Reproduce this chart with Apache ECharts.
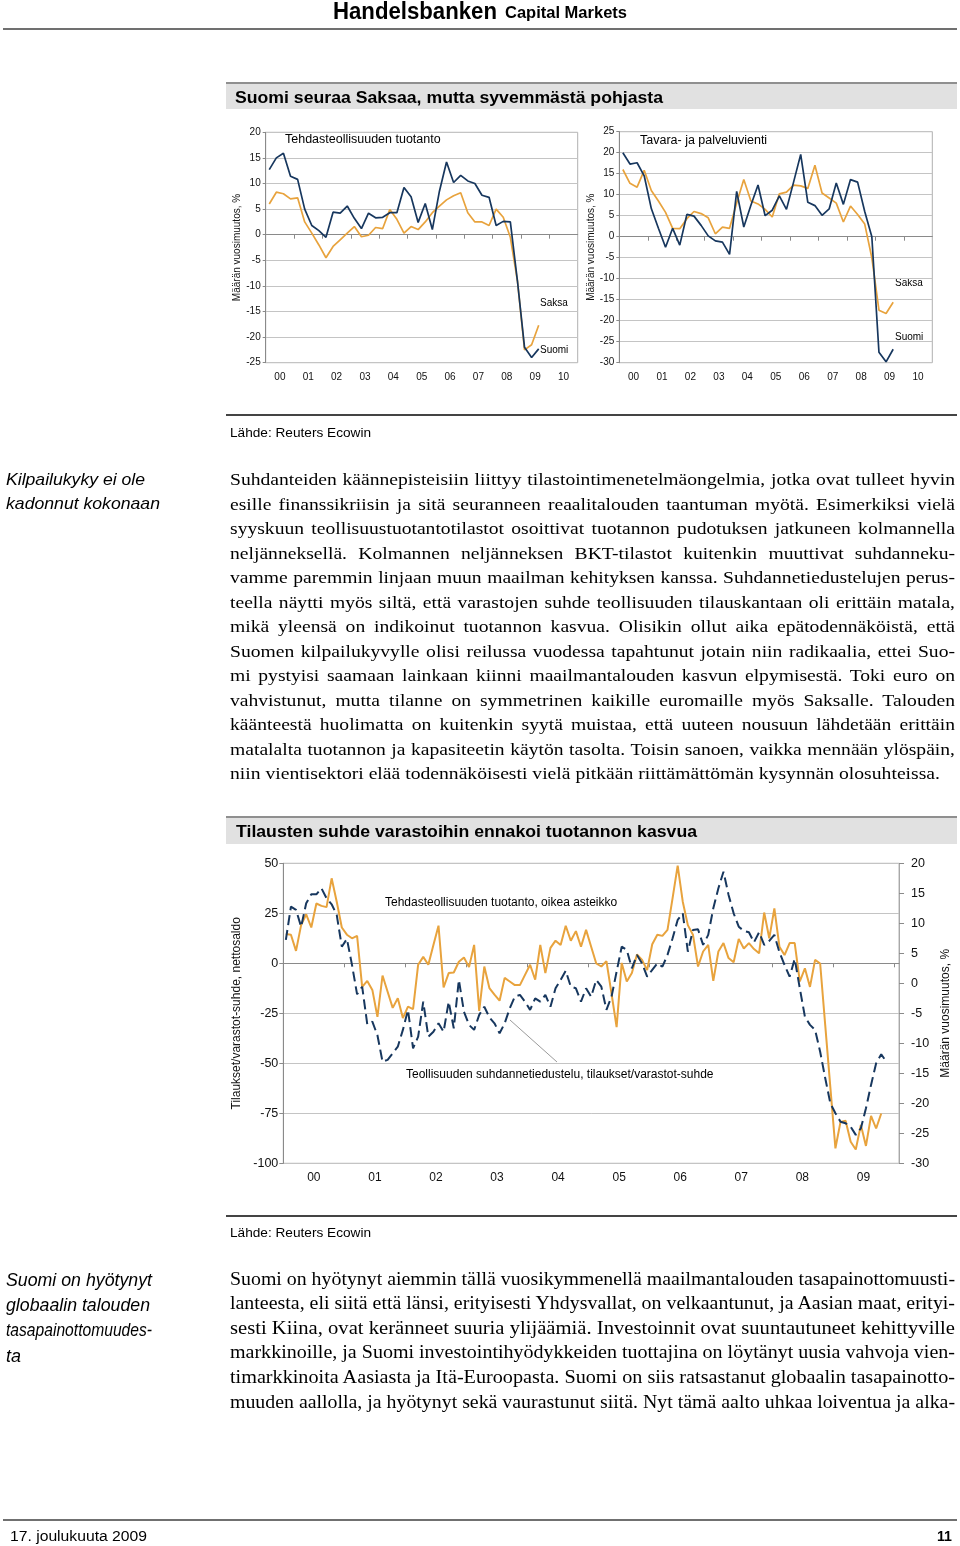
<!DOCTYPE html>
<html><head><meta charset="utf-8">
<script src="https://cdn.jsdelivr.net/npm/echarts@6/dist/echarts.min.js"></script>
<style>
html,body{margin:0;padding:0;background:#fff;}
body{width:960px;height:1546px;position:relative;overflow:hidden;}
#chart{position:absolute;left:0;top:0;width:960px;height:1546px;z-index:1;}
.t{position:absolute;white-space:nowrap;color:#000;z-index:2;}
.band{position:absolute;background:#e1e1e1;border-top:2px solid #8f8f8f;z-index:0;}
.rule{position:absolute;z-index:0;}
</style></head>
<body>
<div class="rule" style="left:3px;top:28px;width:954px;height:2px;background:#707070"></div>
<div class="band" style="left:226px;top:82px;width:731px;height:25px"></div>
<div class="rule" style="left:226px;top:414px;width:731px;height:1.5px;background:#444"></div>
<div class="band" style="left:226px;top:816px;width:731px;height:26px"></div>
<div class="rule" style="left:226px;top:1215px;width:731px;height:1.5px;background:#444"></div>
<div class="rule" style="left:3px;top:1519px;width:954px;height:2px;background:#707070"></div>
<div id="chart"></div>
<script>
// ---------- DATA ----------
const yearsTop = ['00','01','02','03','04','05','06','07','08','09','10'];
const yearsBottom = ['00','01','02','03','04','05','06','07','08','09'];

// Chart 1: Tehdasteollisuuden tuotanto, quarterly y/y %, 2000Q1..2009Q3
const prodSuomi = [12.7,15.0,15.9,11.4,10.8,5.0,1.8,0.8,-0.5,4.4,4.2,5.6,3.2,1.2,4.2,3.3,3.4,4.3,4.3,9.2,7.4,2.4,6.1,1.0,8.5,14.2,10.2,11.6,10.5,10.0,7.7,7.3,1.8,2.6,2.5,-9.0,-22.0,-24.0,-22.3];
const prodSaksa = [6.0,8.3,8.0,7.0,7.2,2.5,0.3,-2.0,-4.5,-2.3,-1.0,0.3,1.6,-0.4,-0.1,1.4,1.2,4.9,3.0,0.3,1.6,1.0,2.5,4.3,5.6,6.8,7.6,8.2,4.3,2.5,2.5,1.8,5.0,3.4,-0.5,-9.0,-22.5,-21.5,-17.7];

// Chart 2: Tavara- ja palveluvienti, quarterly y/y %, 2000Q1..2009Q3
const exportSuomi = [20.0,17.3,17.6,14.5,6.7,2.0,-2.5,2.0,-2.0,5.3,4.9,2.7,0.2,-1.0,-1.3,-4.2,10.8,2.3,7.5,12.3,5.0,6.3,9.7,6.5,13.0,19.6,8.2,7.4,5.1,6.6,12.8,7.7,13.6,13.0,6.0,0.0,-27.5,-29.8,-26.8];
const exportSaksa = [16.0,12.7,11.8,15.8,11.0,8.5,5.8,2.0,1.9,4.3,6.0,5.5,4.5,0.7,2.3,2.0,8.0,13.6,8.5,7.8,6.5,4.7,10.2,10.6,12.3,12.1,11.5,17.0,10.4,9.2,8.0,3.5,7.3,5.3,3.0,-5.0,-17.5,-18.3,-15.6];

// Chart 3: monthly, from Jan 2000
// Tehdasteollisuuden tuotanto (right axis, y/y %)
const manufProd = [8.2,8.1,5.4,9.7,11.5,9.3,13.3,12.9,12.7,17.5,13.6,9.3,
 8.1,7.5,7.9,-0.6,0.4,-1.1,-5.6,1.3,-1.4,-4.1,-2.5,-5.8,
 -3.9,-4.3,3.1,4.4,3.1,6.4,9.6,-0.7,1.7,1.8,3.6,4.3,
 2.7,6.4,-4.6,2.8,-0.8,-1.9,-2.9,0.9,0.3,-0.3,-0.3,1.4,
 3.1,0.6,6.4,1.7,5.9,7.1,6.4,9.6,7.1,8.7,6.1,8.9,
 6.1,3.3,2.8,3.7,-1.7,-7.3,3.4,0.3,1.7,4.8,3.9,2.2,
 6.5,8.1,7.9,8.9,14.2,19.6,13.6,9.7,8.1,2.8,5.3,6.4,
 0.4,5.3,6.7,4.2,3.5,7.4,5.8,6.7,5.7,5.0,11.8,7.5,
 12.5,6.1,4.7,6.7,6.7,0.3,2.5,-0.6,3.9,3.3,-7.0,-17.3,
 -27.5,-23.1,-22.9,-26.4,-27.7,-23.6,-27.1,-22.1,-24.2,-21.7];
// Teollisuuden suhdannetiedustelu, tilaukset/varastot-suhde (left axis, net balance)
const ordersStocks = [11.7,28.3,26.7,18.3,30.0,34.5,34.5,37.5,32.5,29.5,24.2,8.3,
 12.2,-0.8,-15.5,-11.7,-30.5,-29.2,-36.0,-49.2,-48.3,-45.0,-41.7,-33.3,
 -23.3,-42.5,-36.7,-19.2,-36.7,-34.2,-30.0,-34.2,-19.2,-32.5,-8.3,-24.2,
 -30.8,-33.3,-25.8,-21.7,-27.0,-30.0,-35.0,-30.0,-22.5,-16.7,-15.8,-19.2,
 -23.3,-17.5,-19.2,-15.8,-21.7,-12.5,-8.3,-3.7,-11.7,-12.5,-19.2,-12.5,
 -16.7,-8.3,-11.7,-23.3,-16.7,-4.2,8.3,6.7,-2.5,4.2,0.0,-6.7,
 -3.3,0.0,-1.7,4.2,12.5,21.7,25.0,5.8,16.7,17.0,9.2,14.2,
 27.5,37.5,45.8,34.2,25.0,18.3,16.2,15.5,10.5,15.5,9.2,11.2,
 14.2,5.5,-0.8,-6.7,2.2,-12.5,-26.7,-30.8,-33.3,-44.2,-57.5,-70.0,
 -75.0,-79.2,-80.0,-81.7,-85.8,-82.5,-72.5,-60.8,-50.0,-45.5,-49.2];

// ---------- TEXT ----------
const para1 = [
 'Suhdanteiden käännepisteisiin liittyy tilastointimenetelmäongelmia, jotka ovat tulleet hyvin',
 'esille finanssikriisin ja sitä seuranneen reaalitalouden taantuman myötä. Esimerkiksi vielä',
 'syyskuun teollisuustuotantotilastot osoittivat tuotannon pudotuksen jatkuneen kolmannella',
 'neljänneksellä. Kolmannen neljänneksen BKT-tilastot kuitenkin muuttivat suhdanneku-',
 'vamme paremmin linjaan muun maailman kehityksen kanssa. Suhdannetiedustelujen perus-',
 'teella näytti myös siltä, että varastojen suhde teollisuuden tilauskantaan oli erittäin matala,',
 'mikä yleensä on indikoinut tuotannon kasvua. Olisikin ollut aika epätodennäköistä, että',
 'Suomen kilpailukyvylle olisi reilussa vuodessa tapahtunut jotain niin radikaalia, ettei Suo-',
 'mi pystyisi saamaan lainkaan kiinni maailmantalouden kasvun elpymisestä. Toki euro on',
 'vahvistunut, mutta tilanne on symmetrinen kaikille euromaille myös Saksalle. Talouden',
 'käänteestä huolimatta on kuitenkin syytä muistaa, että uuteen nousuun lähdetään erittäin',
 'matalalta tuotannon ja kapasiteetin käytön tasolta. Toisin sanoen, vaikka mennään ylöspäin,',
 'niin vientisektori elää todennäköisesti vielä pitkään riittämättömän kysynnän olosuhteissa.'
];
const para2 = [
 'Suomi on hyötynyt aiemmin tällä vuosikymmenellä maailmantalouden tasapainottomuusti-',
 'lanteesta, eli siitä että länsi, erityisesti Yhdysvallat, on velkaantunut, ja Aasian maat, erityi-',
 'sesti Kiina, ovat keränneet suuria ylijäämiä. Investoinnit ovat suuntautuneet kehittyville',
 'markkinoille, ja Suomi investointihyödykkeiden tuottajina on löytänyt uusia vahvoja vien-',
 'timarkkinoita Aasiasta ja Itä-Euroopasta. Suomi on siis ratsastanut globaalin tasapainotto-',
 'muuden aallolla, ja hyötynyt sekä vaurastunut siitä. Nyt tämä aalto uhkaa loiventua ja alka-'
];
const note1 = ['Kilpailukyky ei ole','kadonnut kokonaan'];
const note2 = ['Suomi on hyötynyt','globaalin talouden','tasapainottomuudes-','ta'];

const SANS = '"Liberation Sans", Arial, sans-serif';
const NARROW = '"Liberation Sans Narrow", "Liberation Sans", Arial, sans-serif';
const SERIF = '"Liberation Serif", "Times New Roman", serif';

function place(text, x, y, w, size, family, opts) {
  opts = opts || {};
  const lh = Math.round(size * 1.25);
  const d = document.createElement('div');
  d.className = 't';
  d.style.left = x + 'px';
  d.style.top = (y - lh / 2) + 'px';
  d.style.height = lh + 'px';
  d.style.lineHeight = lh + 'px';
  d.style.fontSize = size + 'px';
  d.style.fontFamily = family;
  if (opts.bold) d.style.fontWeight = 'bold';
  if (opts.italic) d.style.fontStyle = 'italic';
  const s = document.createElement('span');
  s.textContent = text;
  d.appendChild(s);
  document.body.appendChild(d);
  const nat = s.getBoundingClientRect().width;
  const mode = opts.mode || 'scale';
  s.style.display = 'inline-block';
  s.style.transformOrigin = '0 50%';
  if (mode === 'justify') {
    const k = Math.min(opts.hscale || 1, w / nat);
    const n = (text.match(/ /g) || []).length;
    if (n && w / k > nat) s.style.wordSpacing = ((w / k - nat) / n) + 'px';
    s.style.transform = 'scaleX(' + k + ')';
  } else if (mode === 'scale') {
    s.style.transform = 'scaleX(' + (w / nat) + ')';
  }
}

place('Handelsbanken', 333, 11, 164, 23, NARROW, {bold:true});
place('Capital Markets', 505, 12, 122, 17, NARROW, {bold:true});
place('Suomi seuraa Saksaa, mutta syvemmästä pohjasta', 235, 97, 428, 16.5, NARROW, {bold:true});
place('Lähde: Reuters Ecowin', 230, 433, 141, 13, SANS);
note1.forEach((l, i) => place(l, 6, 479 + i * 24.6, [139, 154][i], 17, SANS, {italic:true}));
para1.forEach((l, i) => {
  const last = i === para1.length - 1;
  place(l, 230, 479 + i * 24.5, last ? 710 : 725, 17.5, SERIF, last ? {mode:'scale'} : {mode:'justify', hscale:1.12});
});
place('Tilausten suhde varastoihin ennakoi tuotannon kasvua', 236, 831, 461, 16.5, NARROW, {bold:true});
place('Lähde: Reuters Ecowin', 230, 1233, 141, 13, SANS);
note2.forEach((l, i) => place(l, 6, 1280 + i * 25.2, [146, 144, 146, 15][i], 17.5, SANS, {italic:true}));
para2.forEach((l, i) => place(l, 230, 1279 + i * 24.6, 725, 18.5, SERIF, {mode:'scale'}));
place('17. joulukuuta 2009', 10, 1535, 137, 15.5, NARROW);
place('11', 937, 1535, 15, 15.5, NARROW, {bold:true});

// ---------- CHARTS ----------
const NAVY = '#17375e', ORANGE = '#e8a33d', GRID = '#c4c4c4', AX = '#8a8a8a';
const q = arr => arr.map((v, i) => [i + 0.5, v]);

function topXAxis(gi) {
  return {
    type: 'value', gridIndex: gi, min: 0, max: 44,
    splitLine: {show: false},
    axisLine: {show: true, lineStyle: {color: AX}},
    axisTick: {show: true, length: 4, lineStyle: {color: AX}, customValues: yearsTop.map((y, i) => i * 4)},
    axisLabel: {fontSize: 10, color: '#111', fontFamily: SANS, margin: 10,
      customValues: yearsTop.map((y, i) => i * 4 + 2),
      formatter: v => yearsTop[Math.floor(v / 4)]}
  };
}
function topYAxis(gi, min, max) {
  return {
    type: 'value', gridIndex: gi, min: min, max: max, interval: 5,
    name: 'Määrän vuosimuutos, %', nameLocation: 'middle', nameGap: 23, nameRotate: 90,
    nameTextStyle: {fontSize: 10, color: '#111', fontFamily: SANS},
    axisLine: {show: true, lineStyle: {color: AX}},
    axisTick: {show: true, length: 3, lineStyle: {color: AX}},
    splitLine: {show: true, lineStyle: {color: GRID, width: 1}},
    axisLabel: {fontSize: 10, color: '#111', fontFamily: SANS, margin: 5}
  };
}

const chart = echarts.init(document.getElementById('chart'), null, {renderer: 'canvas'});
chart.setOption({
  animation: false,
  grid: [
    {left: 265.7, top: 132.3, width: 312, height: 230.4, show: true, borderColor: '#b0b0b0', borderWidth: 1},
    {left: 619.3, top: 131.7, width: 313, height: 231, show: true, borderColor: '#b0b0b0', borderWidth: 1},
    {left: 283.3, top: 863.3, width: 617.7, height: 300, show: true, borderColor: '#b0b0b0', borderWidth: 1}
  ],
  xAxis: [
    topXAxis(0), topXAxis(1),
    {
      type: 'value', gridIndex: 2, min: 0, max: 121,
      splitLine: {show: false},
      axisLine: {show: true, lineStyle: {color: AX}},
      axisTick: {show: true, length: 4, lineStyle: {color: AX}, customValues: yearsBottom.map((y, i) => i * 12).concat([120])},
      axisLabel: {fontSize: 12, color: '#111', fontFamily: SANS, margin: 8,
        customValues: yearsBottom.map((y, i) => i * 12 + 6),
        formatter: v => yearsBottom[Math.floor(v / 12)]}
    }
  ],
  yAxis: [
    topYAxis(0, -25, 20),
    topYAxis(1, -30, 25),
    {
      type: 'value', gridIndex: 2, min: -100, max: 50, interval: 25, position: 'left',
      name: 'Tilaukset/varastot-suhde, nettosaldo', nameLocation: 'middle', nameGap: 39, nameRotate: 90,
      nameTextStyle: {fontSize: 12, color: '#111', fontFamily: SANS},
      axisLine: {show: true, lineStyle: {color: AX}},
      axisTick: {show: true, length: 4, lineStyle: {color: AX}},
      splitLine: {show: true, lineStyle: {color: GRID, width: 1}},
      axisLabel: {fontSize: 12.5, color: '#111', fontFamily: SANS, margin: 5}
    },
    {
      type: 'value', gridIndex: 2, min: -30, max: 20, interval: 5, position: 'right',
      name: 'Määrän vuosimuutos, %', nameLocation: 'middle', nameGap: 31, nameRotate: 90,
      nameTextStyle: {fontSize: 12, color: '#111', fontFamily: SANS},
      axisLine: {show: true, lineStyle: {color: '#a8a8a8'}},
      axisTick: {show: true, length: 5, lineStyle: {color: AX}},
      splitLine: {show: false},
      axisLabel: {fontSize: 12.5, color: '#111', fontFamily: SANS, margin: 12}
    }
  ],
  series: [
    {type: 'line', xAxisIndex: 0, yAxisIndex: 0, data: q(prodSaksa), symbol: 'none', lineStyle: {color: ORANGE, width: 1.7}, z: 3},
    {type: 'line', xAxisIndex: 0, yAxisIndex: 0, data: q(prodSuomi), symbol: 'none', lineStyle: {color: NAVY, width: 1.7}, z: 4},
    {type: 'line', xAxisIndex: 1, yAxisIndex: 1, data: q(exportSaksa), symbol: 'none', lineStyle: {color: ORANGE, width: 1.7}, z: 3},
    {type: 'line', xAxisIndex: 1, yAxisIndex: 1, data: q(exportSuomi), symbol: 'none', lineStyle: {color: NAVY, width: 1.7}, z: 4},
    {type: 'line', xAxisIndex: 2, yAxisIndex: 3, data: q(manufProd), symbol: 'none', lineStyle: {color: ORANGE, width: 2}, z: 3},
    {type: 'line', xAxisIndex: 2, yAxisIndex: 2, data: q(ordersStocks), symbol: 'none', lineStyle: {color: NAVY, width: 2, type: [10, 5]}, z: 4}
  ],
  graphic: [
    {type: 'text', style: {text: 'Tehdasteollisuuden tuotanto', x: 285, y: 140, fontSize: 12.5, fontFamily: SANS, fill: '#000', verticalAlign: 'middle'}},
    {type: 'text', style: {text: 'Saksa', x: 540, y: 303, fontSize: 10, fontFamily: SANS, fill: '#000', verticalAlign: 'middle'}},
    {type: 'text', style: {text: 'Suomi', x: 540, y: 350, fontSize: 10, fontFamily: SANS, fill: '#000', verticalAlign: 'middle'}},
    {type: 'text', style: {text: 'Tavara- ja palveluvienti', x: 640, y: 141, fontSize: 12.5, fontFamily: SANS, fill: '#000', verticalAlign: 'middle'}},
    {type: 'text', style: {text: 'Saksa', x: 895, y: 283, fontSize: 10, fontFamily: SANS, fill: '#000', verticalAlign: 'middle'}},
    {type: 'text', style: {text: 'Suomi', x: 895, y: 337, fontSize: 10, fontFamily: SANS, fill: '#000', verticalAlign: 'middle'}},
    {type: 'text', style: {text: 'Tehdasteollisuuden tuotanto, oikea asteikko', x: 385, y: 903, fontSize: 12, fontFamily: SANS, fill: '#000', verticalAlign: 'middle'}},
    {type: 'text', style: {text: 'Teollisuuden suhdannetiedustelu, tilaukset/varastot-suhde', x: 406, y: 1075, fontSize: 12, fontFamily: SANS, fill: '#000', verticalAlign: 'middle'}},
    {type: 'line', shape: {x1: 510, y1: 1020, x2: 557, y2: 1062}, style: {stroke: '#9a9a9a', lineWidth: 1}}
  ]
});
</script>
</body></html>
